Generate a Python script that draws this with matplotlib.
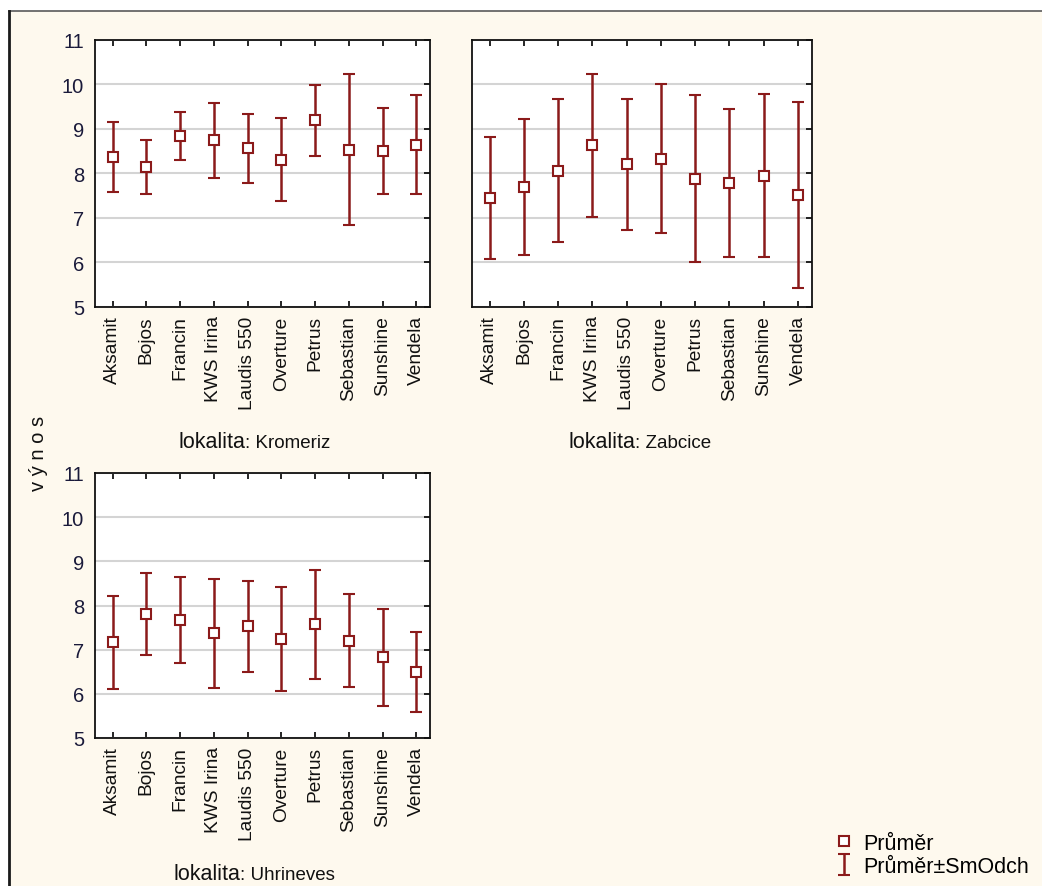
import matplotlib
matplotlib.use("Agg")
import matplotlib.pyplot as plt
from matplotlib.lines import Line2D

plt.rcParams["font.family"] = ["Liberation Sans", "DejaVu Sans"]

# odrůdy (varieties)
varieties = ["Aksamit", "Bojos", "Francin", "KWS Irina", "Laudis 550",
             "Overture", "Petrus", "Sebastian", "Sunshine", "Vendela"]

# průměr a směrodatná odchylka výnosu podle lokality
kromeriz_mean = [8.37, 8.14, 8.84, 8.74, 8.56, 8.31, 9.19, 8.53, 8.50, 8.64]
kromeriz_sd = [0.79, 0.61, 0.53, 0.84, 0.77, 0.94, 0.80, 1.70, 0.97, 1.11]

zabcice_mean = [7.44, 7.69, 8.06, 8.63, 8.20, 8.33, 7.88, 7.78, 7.95, 7.51]
zabcice_sd = [1.37, 1.53, 1.61, 1.61, 1.48, 1.68, 1.87, 1.66, 1.82, 2.09]

uhrineves_mean = [7.17, 7.81, 7.67, 7.37, 7.53, 7.24, 7.57, 7.20, 6.83, 6.50]
uhrineves_sd = [1.05, 0.93, 0.97, 1.23, 1.03, 1.17, 1.23, 1.05, 1.10, 0.90]

locations = ["Kromeriz", "Zabcice", "Uhrineves"]

W, H = 1042, 887
BG = "#fef9ee"
RED = "#8b1a1a"


def px_axes(fig, left, top, right, bottom):
    return fig.add_axes([left / W, 1 - bottom / H, (right - left) / W, (bottom - top) / H])


def draw_panel(ax, means, sds, loc, joint_frac, base_frac, ylabels=True):
    x = list(range(len(varieties)))
    bars = ax.errorbar(x, means, yerr=sds, fmt="none", ecolor=RED,
                       elinewidth=1.8, capsize=4, capthick=1.5, zorder=3)
    pts, = ax.plot(x, means, ls="none", marker="s", ms=7.5, mfc="white",
                   mec=RED, mew=1.5, zorder=4)
    ax.set_xlim(-0.52, 9.4)
    ax.set_ylim(5, 11)
    ax.set_yticks(range(5, 12))
    ax.set_xticks(x)
    ax.set_xticklabels(varieties, rotation=90, fontsize=13.8, color="#111111")
    ax.tick_params(axis="y", labelsize=14.5, labelcolor="#1a1a3a",
                   left=False, right=True, direction="in", length=4, width=1.2, pad=8,
                   labelleft=ylabels)
    ax.tick_params(axis="x", top=True, bottom=True, direction="in",
                   length=4, width=1.2, pad=6)
    ax.grid(axis="y", color="#d4d4d4", lw=1.5, zorder=0)
    ax.set_axisbelow(True)
    for sp in ax.spines.values():
        sp.set_color("#111111")
        sp.set_linewidth(1.3)
    ax.text(joint_frac, base_frac, "lokalita", transform=ax.transAxes,
            ha="right", va="baseline", fontsize=15.5, color="#111111")
    ax.text(joint_frac, base_frac, ": " + loc, transform=ax.transAxes,
            ha="left", va="baseline", fontsize=13.5, color="#111111")
    return pts, bars


fig = plt.figure(figsize=(W / 100, H / 100), dpi=100, facecolor="white")

# krémové pozadí s rámečkem nahoře a vlevo
fig.patches.append(plt.Rectangle((8.5 / W, 0), 1, 1 - 11.5 / H, transform=fig.transFigure,
                                 facecolor=BG, edgecolor="none", zorder=-10))
fig.lines.append(Line2D([8.5 / W, 1], [1 - 11.5 / H] * 2, transform=fig.transFigure,
                        color="#5a5a5a", lw=1.2))
fig.lines.append(Line2D([8.5 / W] * 2, [0, 1 - 11.5 / H], transform=fig.transFigure,
                        color="#1a1a1a", lw=2))

ax1 = px_axes(fig, 95, 40.7, 430, 308)
ax2 = px_axes(fig, 471.7, 40.7, 811.7, 308)
ax3 = px_axes(fig, 95, 474, 430, 739)

pts, bars = draw_panel(ax1, kromeriz_mean, kromeriz_sd, locations[0], 0.448, -0.524)
draw_panel(ax2, zabcice_mean, zabcice_sd, locations[1], 0.48, -0.524, ylabels=False)
draw_panel(ax3, uhrineves_mean, uhrineves_sd, locations[2], 0.433, -0.532)

fig.text(39 / W, 1 - 453 / H, "v ý n o s", rotation=90, ha="center", va="center",
         fontsize=14.5, color="#111111")

leg = fig.legend([pts, bars], ["Průměr", "Průměr±SmOdch"], loc="lower left",
                 bbox_to_anchor=(819 / W, -5 / H), frameon=False, fontsize=15.5,
                 handlelength=1.0, handletextpad=0.4, labelspacing=0.1, borderpad=0.15)

fig.savefig("out.png", dpi=100, facecolor="white")
